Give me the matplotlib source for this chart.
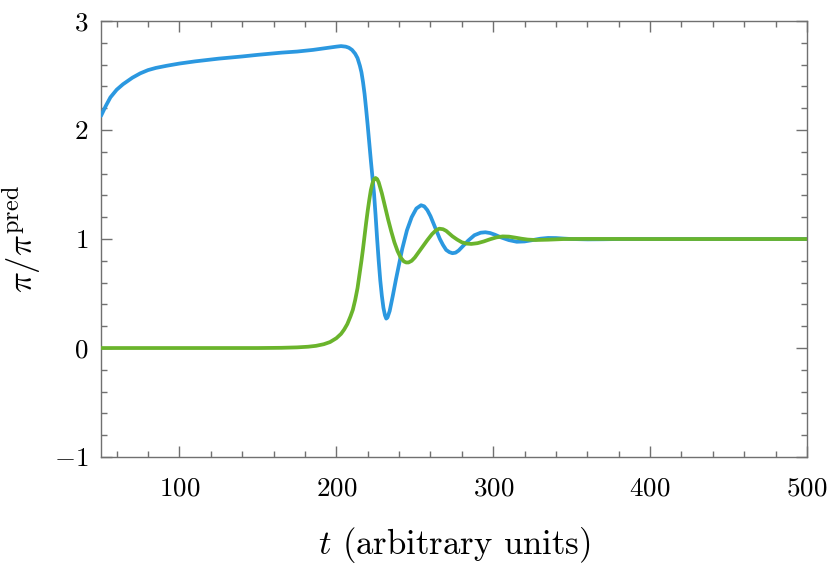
import matplotlib
matplotlib.use("Agg")
import matplotlib.pyplot as plt
from matplotlib.ticker import MultipleLocator

plt.rcParams['mathtext.fontset'] = 'cm'
plt.rcParams['font.family'] = 'serif'
plt.rcParams['font.serif'] = ['cmr10']
plt.rcParams['axes.formatter.use_mathtext'] = True

# Blue series
t_blue = [50, 53, 56, 60, 64, 70, 75, 80, 85, 92, 100, 110, 125, 140, 150, 165, 175, 185,
          195, 200, 203, 206, 208, 210, 212, 213.5, 215, 216, 217, 218, 219, 220, 221, 222,
          223, 224, 225, 226, 227, 228, 229, 230, 231, 231.8, 232.6, 234, 236, 238, 240,
          242, 245, 248, 251, 254, 256, 258, 260, 262, 264, 266, 268, 270, 272, 274, 276,
          278, 281, 284, 288, 292, 295, 298, 301, 305, 310, 315, 320, 325, 330, 335, 340,
          345, 350, 360, 370, 380, 400, 420, 450, 500]
v_blue = [2.13, 2.22, 2.30, 2.37, 2.42, 2.48, 2.52, 2.55, 2.57, 2.59, 2.61, 2.63, 2.655, 2.675,
          2.69, 2.71, 2.72, 2.735, 2.755, 2.765, 2.77, 2.765, 2.755, 2.735, 2.70, 2.66, 2.59,
          2.53, 2.44, 2.33, 2.19, 2.04, 1.88, 1.72, 1.57, 1.42, 1.22, 1.00, 0.80, 0.62, 0.48,
          0.37, 0.30, 0.27, 0.28, 0.34, 0.48, 0.63, 0.77, 0.91, 1.08, 1.20, 1.28, 1.31, 1.30,
          1.265, 1.21, 1.14, 1.07, 1.00, 0.945, 0.90, 0.88, 0.87, 0.875, 0.895, 0.94, 0.985,
          1.035, 1.058, 1.062, 1.055, 1.04, 1.015, 0.99, 0.975, 0.978, 0.99, 1.003, 1.01,
          1.009, 1.004, 1.0, 0.997, 0.998, 1.0, 1.0, 1.0, 1.0, 1.0]

# Green series
t_green = [50, 100, 150, 165, 175, 182, 187, 192, 196, 200, 203, 205, 207, 209, 210.5, 212,
           213.5, 215, 216, 217, 218, 219, 220, 221, 222, 223, 224, 225, 226, 227, 228, 229,
           230, 231.5, 233, 235, 237, 239, 241, 243, 244.5, 246, 248, 250, 252, 254, 256,
           258, 261, 263.5, 265.6, 268, 270, 272, 274, 277, 280, 283, 286, 290, 294, 298,
           302, 306, 310, 314, 318, 322, 327, 335, 345, 360, 400, 450, 500]
v_green = [0.0, 0.0, 0.0, 0.002, 0.006, 0.012, 0.02, 0.035, 0.055, 0.09, 0.13, 0.17, 0.22,
           0.29, 0.35, 0.44, 0.55, 0.70, 0.80, 0.91, 1.03, 1.15, 1.26, 1.36, 1.45, 1.51, 1.55,
           1.56, 1.55, 1.52, 1.47, 1.42, 1.36, 1.27, 1.18, 1.07, 0.97, 0.89, 0.83, 0.795,
           0.785, 0.785, 0.80, 0.83, 0.87, 0.91, 0.95, 0.99, 1.045, 1.08, 1.095, 1.09, 1.075,
           1.05, 1.025, 0.995, 0.97, 0.958, 0.955, 0.962, 0.978, 0.998, 1.015, 1.024, 1.022,
           1.013, 1.003, 0.995, 0.991, 0.994, 1.0, 1.001, 1.0, 1.0, 1.0]

x_ticks = [100, 200, 300, 400, 500]
y_ticks = [-1, 0, 1, 2, 3]

fig = plt.figure(figsize=(8.3, 5.7), dpi=100)
ax = fig.add_axes([0.1217, 0.1982, 0.8506, 0.7649])

ax.plot(t_blue, v_blue, color='#2B98E0', lw=2.7, solid_capstyle='round', zorder=3)
ax.plot(t_green, v_green, color='#6AB42C', lw=2.7, solid_capstyle='round', zorder=4)

ax.set_xlim(50, 500)
ax.set_ylim(-1, 3)
ax.set_xticks(x_ticks)
ax.set_yticks(y_ticks)
ax.xaxis.set_minor_locator(MultipleLocator(20))
ax.yaxis.set_minor_locator(MultipleLocator(0.2))

gray = '#707070'
for s in ax.spines.values():
    s.set_color(gray)
    s.set_linewidth(1.0)
ax.tick_params(which='both', direction='in', top=True, right=True, color=gray,
               labelsize=19.5, width=1.0)
ax.tick_params(which='major', length=8, pad=14)
ax.tick_params(which='minor', length=4.5)
ax.tick_params(axis='y', which='major', pad=9)

ax.set_xlabel(r'$t$ (arbitrary units)', fontsize=25, labelpad=18)
ax.set_ylabel(r'$\pi/\pi^{\rm pred}$', fontsize=25, labelpad=8)

fig.savefig('out.png', dpi=100)
